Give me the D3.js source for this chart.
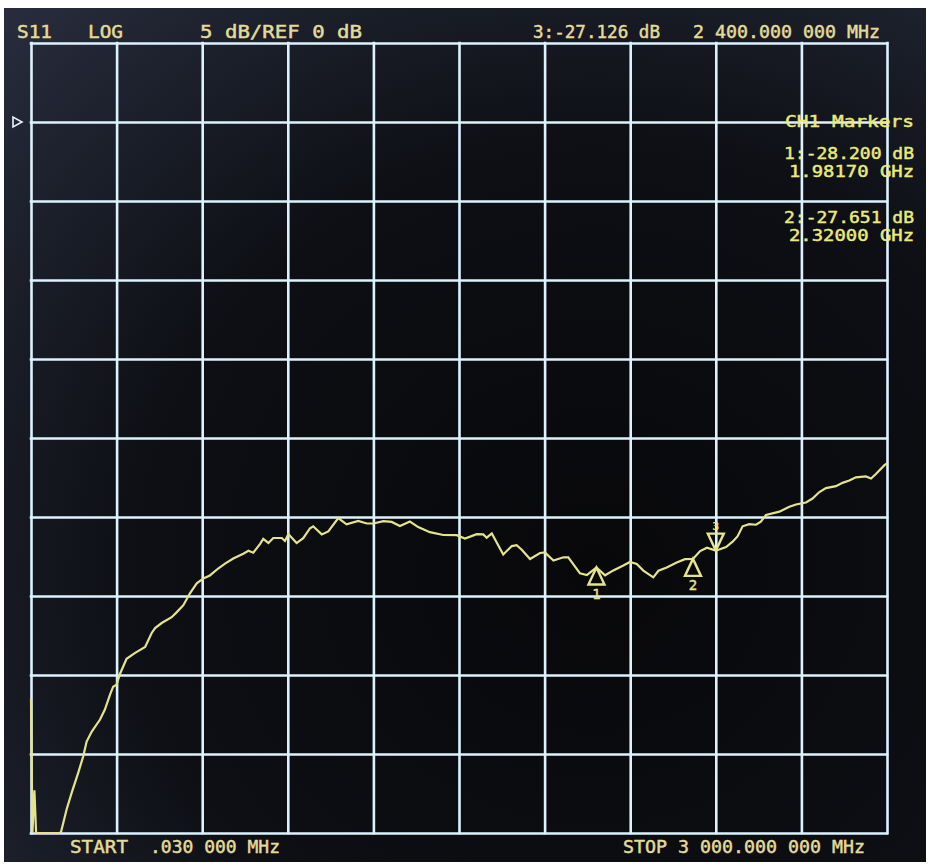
<!DOCTYPE html>
<html>
<head>
<meta charset="utf-8">
<script src="https://cdn.jsdelivr.net/npm/d3@7"></script>
<style>
  html, body { margin: 0; padding: 0; background: #ffffff; }
  svg { display: block; }
  text { font-family: "DejaVu Sans Mono", "Liberation Mono", monospace; }
</style>
</head>
<body>
<svg id="chart" width="933" height="866"></svg>
<script>
// ---- Sweep settings ----
const startMHz = 0.03;
const stopMHz = 3000;
const refDb = 0;
const dbPerDiv = 5;
const topDb = 5;
const bottomDb = -45;

// ---- S11 trace (frequency in MHz, return loss in dB) ----
const traceFreqMHz = [0.03, 5, 12, 18, 100, 105, 125, 143, 166, 183, 195, 213, 242, 259, 277, 288, 300, 312, 335, 365,
  400, 423, 435, 458, 493, 511, 534, 557, 581, 604, 627, 656, 680, 709, 744, 762, 779, 803, 814, 832,
  849, 879, 890, 902, 931, 954, 978, 989, 1019, 1042, 1077, 1106, 1147, 1177, 1200, 1235, 1264, 1293, 1328, 1357,
  1398, 1445, 1492, 1521, 1562, 1585, 1597, 1615, 1655, 1685, 1702, 1720, 1749, 1784, 1801, 1831, 1866, 1883, 1924, 1948,
  1981.7, 2012, 2041, 2076, 2099, 2123, 2146, 2181, 2199, 2228, 2263, 2292, 2320, 2345, 2369, 2400, 2412, 2436, 2459, 2476,
  2494, 2517, 2541, 2558, 2576, 2623, 2658, 2681, 2716, 2739, 2763, 2786, 2821, 2844, 2868, 2891, 2926, 2944, 2961, 2991, 3000];
const traceDb = [-36.5, -46, -42.3, -46, -46, -44.95, -43.5, -42.43, -41.16, -40.15, -39.21, -38.58, -37.82, -37.19, -36.24, -35.74, -35.61, -34.92, -33.97, -33.6,
  -33.22, -32.34, -32.03, -31.71, -31.34, -31.02, -30.58, -29.83, -29.2, -28.89, -28.7, -28.26, -27.95, -27.63, -27.32, -27.14, -27.26, -26.7, -26.38, -26.64,
  -26.33, -26.33, -26.52, -26.08, -26.65, -26.34, -25.71, -25.59, -26.1, -25.91, -25.07, -25.46, -25.25, -25.41, -25.41, -25.26, -25.31, -25.57, -25.29, -25.64,
  -25.96, -26.14, -26.15, -26.36, -26.09, -26.1, -26.31, -26.04, -27.37, -26.84, -26.78, -27.07, -27.66, -27.28, -27.24, -27.75, -27.55, -27.55, -28.57, -28.68,
  -28.2, -28.69, -28.38, -28.07, -27.85, -27.97, -28.39, -28.82, -28.4, -28.19, -27.88, -27.67, -27.651, -27.16, -26.94, -27.126, -27.06, -26.9, -26.56, -26.23,
  -25.59, -25.45, -25.49, -25.29, -24.87, -24.66, -24.35, -24.21, -24.08, -23.83, -23.42, -23.17, -23.05, -22.84, -22.69, -22.49, -22.43, -22.56, -22.28, -21.72, -21.6];

// ---- Markers ----
const markerIds = [1, 2, 3];
const markerFreqMHz = [1981.7, 2320, 2400];
const markerDb = [-28.2, -27.651, -27.126];
const activeMarker = 3;

// ---- Screen annotations ----
const paramLabel = "S11";
const formatLabel = "LOG";
const scaleLabel = "5 dB/REF 0 dB";
const markerPanelTitle = "CH1 Markers";
const startLabel = "START";
const stopLabel = "STOP";

// ---------------------------------------------------------------
const plot = { left: 31, right: 887, top: 43, bottom: 833 };
const svg = d3.select("#chart");
const defs = svg.append("defs");

const grad = defs.append("radialGradient").attr("id", "screenBg")
  .attr("cx", "0.64").attr("cy", "0.66").attr("r", "0.9");
grad.append("stop").attr("offset", "0").attr("stop-color", "#08080a");
grad.append("stop").attr("offset", "0.55").attr("stop-color", "#0d0f14");
grad.append("stop").attr("offset", "1").attr("stop-color", "#272c3c");

// CRT face
svg.append("rect").attr("x", 4).attr("y", 8).attr("width", 922).attr("height", 854)
  .attr("fill", "url(#screenBg)");

const x = d3.scaleLinear().domain([startMHz, stopMHz]).range([plot.left, plot.right]);
const y = d3.scaleLinear().domain([bottomDb, topDb]).range([plot.bottom, plot.top]).clamp(true);

const xTicks = d3.range(11).map(i => startMHz + i * (stopMHz - startMHz) / 10);
const yTicks = d3.range(bottomDb, topDb + dbPerDiv / 2, dbPerDiv);

const gridColor = "#dcf3ff";

// graticule from the axes
const gx = svg.append("g").attr("transform", `translate(0,${plot.bottom})`)
  .call(d3.axisBottom(x).tickValues(xTicks).tickSize(-(plot.bottom - plot.top)).tickFormat(""));
gx.select(".domain").remove();
gx.selectAll(".tick line").attr("stroke", gridColor).attr("stroke-width", 2.6).attr("stroke-linecap", "square");

const gy = svg.append("g").attr("transform", `translate(${plot.left},0)`)
  .call(d3.axisLeft(y).tickValues(yTicks).tickSize(-(plot.right - plot.left)).tickFormat(""));
gy.select(".domain").remove();
gy.selectAll(".tick line").attr("stroke", gridColor).attr("stroke-width", 2.6).attr("stroke-linecap", "square");

// reference level pointer
const ry = y(refDb);
svg.append("path")
  .attr("d", `M${plot.left - 18},${ry - 5} L${plot.left - 18},${ry + 5} L${plot.left - 9},${ry} Z`)
  .attr("fill", "none").attr("stroke", "#e8f2ff").attr("stroke-width", 1.6);

// trace
const trace = traceFreqMHz.map((f, i) => ({ f, db: traceDb[i] }));
const traceColor = "#e6e48a";
svg.append("path").datum(trace)
  .attr("d", d3.line().x(d => x(d.f)).y(d => y(d.db)))
  .attr("fill", "none").attr("stroke", traceColor).attr("stroke-width", 2.2)
  .attr("stroke-linejoin", "miter");

// markers
const markers = markerIds.map((id, i) => ({ id, f: markerFreqMHz[i], db: markerDb[i] }));
const mg = svg.append("g").selectAll("g").data(markers).join("g")
  .attr("transform", d => `translate(${x(d.f)},${y(d.db)})`);
mg.append("path")
  .attr("d", d => d.id === activeMarker ? "M0,0 L-8,-17 L8,-17 Z" : "M0,0 L-8,17 L8,17 Z")
  .attr("fill", "none").attr("stroke", traceColor).attr("stroke-width", 2.4);
mg.append("text")
  .attr("text-anchor", "middle")
  .attr("y", d => d.id === activeMarker ? -21 : 31)
  .attr("font-size", d => d.id === activeMarker ? 11 : 14)
  .attr("fill", traceColor)
  .attr("stroke", traceColor).attr("stroke-width", 0.4)
  .text(d => d.id);

// text helpers
function fmtMHz(v) {
  const [ip, fp] = v.toFixed(6).split(".");
  const intPart = ip.replace(/\B(?=(\d{3})+(?!\d))/g, " ");
  return `${intPart === "0" ? "" : intPart}.${fp.slice(0, 3)} ${fp.slice(3)}`;
}
function label(str, xPos, yPos, len, size, color, anchor) {
  svg.append("text").attr("x", xPos).attr("y", yPos)
    .attr("font-size", size).attr("fill", color)
    .attr("stroke", color).attr("stroke-width", 0.45)
    .attr("text-anchor", anchor || "start")
    .attr("textLength", len).attr("lengthAdjust", "spacingAndGlyphs")
    .text(str);
}

const hdrColor = "#e3dc98";
const mkColor = "#ecea78";
const act = markers.find(m => m.id === activeMarker);

// header line
label(paramLabel, 17, 38, 35, 17, hdrColor);
label(formatLabel, 88, 38, 35, 17, hdrColor);
label(scaleLabel, 200, 38, 162, 17, hdrColor);
label(`${act.id}:${act.db.toFixed(3)} dB`, 533, 38, 127, 17, hdrColor);
label(`${fmtMHz(act.f)} MHz`, 693, 38, 187, 17, hdrColor);

// marker panel
label(markerPanelTitle, 914, 127, 129, 16, mkColor, "end");
markers.filter(m => m.id !== activeMarker).forEach((m, i) => {
  const base = 159 + i * 64;
  label(`${m.id}:${m.db.toFixed(3)} dB`, 914, base, 130, 16, mkColor, "end");
  label(`${(m.f / 1000).toFixed(5)} GHz`, 914, base + 18, 125, 16, mkColor, "end");
});

// sweep limits
label(startLabel, 70, 853, 58, 17, hdrColor);
label(`${fmtMHz(startMHz)} MHz`, 150, 853, 130, 17, hdrColor);
label(`${stopLabel} ${fmtMHz(stopMHz)} MHz`, 623, 853, 242, 17, hdrColor);
</script>
</body>
</html>
